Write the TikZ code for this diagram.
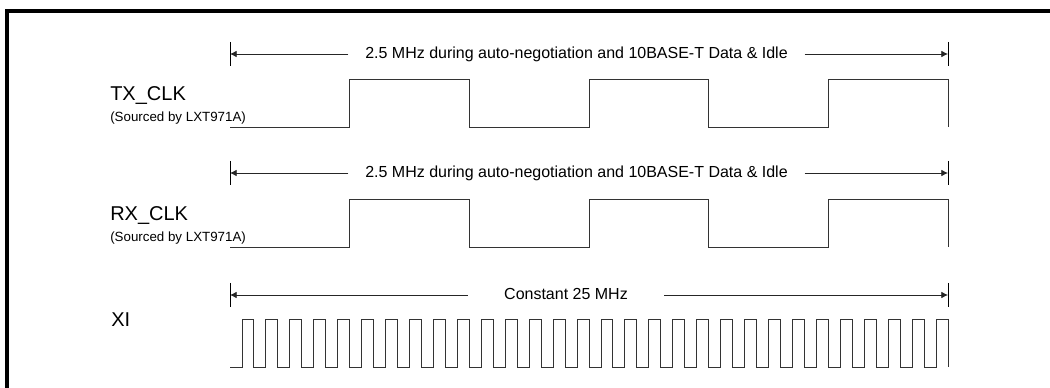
\documentclass[tikz,border=0pt]{standalone}
\usepackage{fontspec}
\setmainfont{Liberation Sans}
\usetikzlibrary{arrows.meta}

\tikzset{
  siglbl/.style={anchor=base west, inner sep=0pt, font=\fontsize{15}{17}\selectfont},
  srclbl/.style={anchor=base west, inner sep=0pt, font=\fontsize{10}{12}\selectfont},
  spanlbl/.style={anchor=base, inner ysep=0pt, inner xsep=12.5pt, font=\fontsize{12}{14}\selectfont},
  spanarrow/.style={-{Latex[length=5pt,width=5pt]}, line width=0.6pt, black!85},
  tickline/.style={line width=0.6pt},
  wave/.style={line width=0.7pt, black!80, line join=miter}
}

\begin{document}
\begin{tikzpicture}[x=0.75pt,y=-0.75pt]
\useasboundingbox (0,0) rectangle (1050,388);
\draw[line width=2.3pt] (7,390) -- (7,11) -- (1052,11); % frame

% TX_CLK
\node[siglbl] (txname) at (110,100.7) {TX\_CLK};
\node[srclbl] (txsrc) at (110,121.7) {(Sourced by LXT971A)};
\coordinate (txl) at (230,54);
\coordinate (txr) at (948,54);
\node[spanlbl] (txspan) at (576.5,58.3) {2.5 MHz during auto-negotiation and 10BASE-T Data \& Idle};
\draw[spanarrow] (txspan.west |- txl) -- (txl);
\draw[spanarrow] (txspan.east |- txr) -- (txr);
\foreach \x in {230,948}
\draw[tickline] (\x,42) -- (\x,66);
\draw[wave] (230,127) foreach \k in {0,1,2} { -- ++(119.67,0) -- ++(0,-48) -- ++(119.67,0) -- ++(0,48) };

% RX_CLK
\node[siglbl] (rxname) at (110,220.5) {RX\_CLK};
\node[srclbl] (rxsrc) at (110,241.5) {(Sourced by LXT971A)};
\coordinate (rxl) at (230,173);
\coordinate (rxr) at (948,173);
\node[spanlbl] (rxspan) at (576.5,177.3) {2.5 MHz during auto-negotiation and 10BASE-T Data \& Idle};
\draw[spanarrow] (rxspan.west |- rxl) -- (rxl);
\draw[spanarrow] (rxspan.east |- rxr) -- (rxr);
\foreach \x in {230,948}
\draw[tickline] (\x,161) -- (\x,185);
\draw[wave] (230,247) foreach \k in {0,1,2} { -- ++(119.67,0) -- ++(0,-48) -- ++(119.67,0) -- ++(0,48) };

% XI
\node[siglbl] (xiname) at (111,327) {XI};
\coordinate (xil) at (230,295);
\coordinate (xir) at (948,295);
\node[spanlbl, inner xsep=27pt] (xispan) at (566,299.5) {Constant 25 MHz};
\draw[spanarrow] (xispan.west |- xil) -- (xil);
\draw[spanarrow] (xispan.east |- xir) -- (xir);
\foreach \x in {230,948}
\draw[tickline] (\x,283) -- (\x,307);
\draw[wave] (230,367) foreach \k in {1,...,30} { -- ++(11.967,0) -- ++(0,-48) -- ++(11.967,0) -- ++(0,48) };
\end{tikzpicture}
\end{document}
